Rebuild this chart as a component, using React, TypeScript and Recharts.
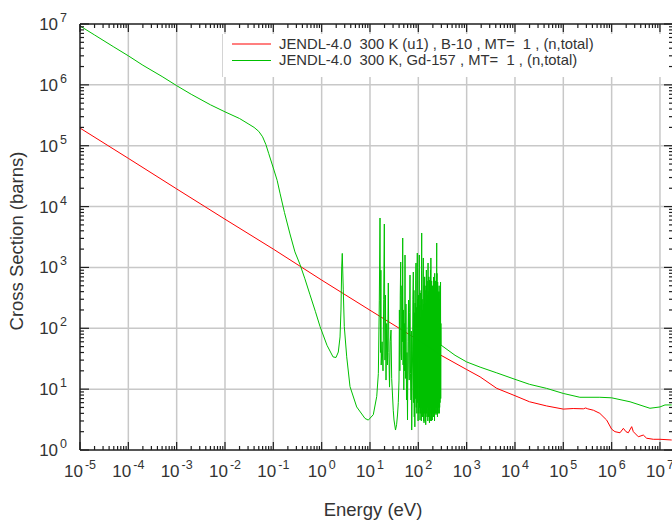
import React from 'react';
import { LineChart, Line, XAxis, YAxis, ReferenceLine } from 'recharts';

// ---------- axis values ----------
const X_DECADES = [1e-5, 1e-4, 1e-3, 1e-2, 1e-1, 1, 1e1, 1e2, 1e3, 1e4, 1e5, 1e6, 1e7];
const Y_DECADES = [1, 1e1, 1e2, 1e3, 1e4, 1e5, 1e6, 1e7];
const MINOR_MULTIPLIERS = [2, 3, 4, 5, 6, 7, 8, 9];
const X_DOMAIN: [number, number] = [1e-5, 1.86e7];
const Y_DOMAIN: [number, number] = [1, 1e7];

const X_TITLE = 'Energy (eV)';
const Y_TITLE = 'Cross Section (barns)';
const SERIES_NAMES = [
  'JENDL-4.0  300 K (u1) , B-10 , MT=  1 , (n,total)',
  'JENDL-4.0  300 K, Gd-157 , MT=  1 , (n,total)',
];
const SERIES_COLORS = ['#ff0000', '#00c000'];

// ---------- data: [energy eV, cross section barns] ----------
const b10Points: [number, number][] = [
  [1e-5, 1.95e5], [1e-4, 6.2e4], [1e-3, 1.95e4], [1e-2, 6.2e3], [0.1, 2.0e3],
  [1, 620], [10, 198], [100, 64], [295, 36], [1e3, 21], [1.9e3, 15.9],
  [4.2e3, 10.3], [1e4, 7.8], [2e4, 6.2], [4.5e4, 5.3], [1e5, 4.7], [1.6e5, 4.8],
  [2.6e5, 4.75], [2.9e5, 4.9], [3.2e5, 4.75], [4.2e5, 4.5], [5.7e5, 4.0],
  [7.9e5, 3.1], [1.0e6, 2.2], [1.17e6, 2.0], [1.49e6, 1.92], [1.75e6, 2.27],
  [1.98e6, 2.0], [2.21e6, 1.92], [2.6e6, 2.42], [2.81e6, 2.0], [3.57e6, 1.65],
  [4.52e6, 1.76], [5.3e6, 1.56], [7.3e6, 1.5], [1e7, 1.5], [1.75e7, 1.46],
];

// smooth low-energy part, 2.8 eV resonance and valley
const gd157LowPoints: [number, number][] = [
  [1e-5, 9.3e6], [2e-5, 6.6e6], [5e-5, 4.2e6], [1e-4, 3.0e6], [2e-4, 2.1e6],
  [5e-4, 1.37e6], [1e-3, 9.7e5], [2e-3, 7.0e5], [5e-3, 4.7e5], [1e-2, 3.6e5],
  [2e-2, 2.8e5], [3e-2, 2.3e5], [4e-2, 2.0e5], [5e-2, 1.72e5], [6e-2, 1.4e5],
  [7e-2, 1.05e5], [8e-2, 7.5e4], [0.1, 4.3e4], [0.12, 2.7e4], [0.1375, 1.66e4],
  [0.17, 8000], [0.221, 3550], [0.28, 1800], [0.356, 1120], [0.45, 650],
  [0.574, 355], [0.74, 190], [0.925, 107], [1.29, 52.5], [1.72, 33.9],
  [1.98, 33.1], [2.21, 40.7], [2.40, 72], [2.51, 200], [2.60, 1020], [2.67, 1700],
  [2.80, 427], [2.94, 107], [3.30, 34], [3.86, 11], [5.31, 5.1], [7.89, 3.3],
  [9.23, 3.1], [11.7, 3.8], [13.8, 7.6], [14.9, 18], [15.6, 290],
];

// resolved resonance region
const gd157ResonancePoints: [number, number][] = [
  [16.12, 6490], [16.5, 40], [16.8, 900], [17.06, 24.9], [17.8, 60], [18.6, 20],
  [19.2, 300], [19.79, 5170], [20.4, 30], [20.9, 350], [21.46, 14.1], [22.2, 120],
  [23.0, 25], [23.94, 555], [24.6, 40], [25.35, 10.8], [26.2, 60], [27.22, 93.7],
  [28.1, 15], [29.24, 8.0], [30.3, 4.5], [31.41, 3.11], [33.73, 2.13], [35.5, 2.6],
  [37.1, 3.76], [38.5, 6], [39.86, 14.1], [40.6, 200], [41.5, 20], [42.3, 350],
  [43.21, 1228], [44.0, 40], [44.89, 30.1], [45.8, 500], [46.6, 60], [47.53, 3043],
  [48.4, 25], [49.2, 200], [50.1, 9.68], [51.2, 120], [52.1, 20], [53.04, 1600],
  [54.2, 15], [55.5, 250], [56.97, 6.63], [58.3, 40], [59.75, 3.11], [61.2, 60],
  [62.66, 291], [63.7, 25], [64.79, 14.1], [66.0, 180], [67.3, 750], [68.9, 18],
  [70.58, 6.63], [71.8, 90], [72.98, 2.13], [74.3, 8], [75.82, 30.1], [77.3, 300],
  [78.8, 841], [80.0, 6], [81.2, 420], [82.4, 3.5], [83.6, 180], [84.8, 2.4],
  [86.0, 260], [87.2, 7], [88.4, 600], [89.6, 1183], [90.8, 5], [92.0, 220],
  [93.2, 4], [94.3, 450], [95.3, 1725], [96.5, 6], [97.7, 300], [98.9, 3],
  [100.1, 180], [101.3, 350], [102.5, 4], [103.7, 600], [104.8, 1600], [106.0, 5],
  [107.2, 240], [108.4, 3.1], [109.6, 380], [110.8, 4], [112.0, 150], [113.2, 6],
  [114.4, 420], [115.6, 3], [116.6, 900], [117.5, 3680], [118.8, 5], [120.1, 300],
  [121.4, 3.5], [122.7, 200], [124.0, 4], [125.3, 700], [126.9, 1430], [128.3, 3],
  [129.7, 250], [131.1, 2.8], [132.5, 500], [133.9, 4], [135.3, 700], [136.7, 5],
  [138.1, 420], [139.5, 3], [140.9, 260], [142.3, 2.6], [143.8, 500], [145.3, 6],
  [146.8, 907], [148.3, 4], [149.8, 350], [151.3, 3.5], [152.8, 600], [154.3, 5],
  [155.8, 300], [157.3, 3], [158.9, 1183], [160.5, 6], [162.1, 400], [163.7, 3.5],
  [165.3, 700], [166.9, 4], [168.5, 300], [170.1, 2.8], [171.7, 621], [173.4, 5],
  [175.1, 400], [176.8, 3], [178.5, 900], [180.2, 6], [181.9, 1430], [183.6, 4],
  [185.3, 350], [187.0, 3], [188.8, 600], [190.6, 5], [192.4, 300], [194.2, 3.1],
  [196.0, 500], [197.8, 4], [199.6, 420], [201.4, 6], [203.2, 290], [205.0, 3.5],
  [206.9, 697], [208.8, 5], [210.7, 350], [212.6, 4], [214.5, 520], [216.4, 3],
  [218.4, 800], [220.4, 5], [222.4, 400], [224.4, 4], [226.4, 600], [228.4, 6],
  [230.4, 300], [232.4, 3.8], [234.5, 600], [236.6, 5], [238.7, 426], [240.2, 2520],
  [241.8, 4], [243.4, 800], [245.0, 5], [247.1, 300], [249.2, 3.5], [251.4, 576],
  [253.6, 6], [255.8, 250], [258.0, 4], [260.2, 400], [262.4, 5], [264.7, 300],
  [267.0, 6], [269.3, 500], [271.6, 4], [273.9, 200], [276.2, 5], [278.6, 400],
  [281.0, 6], [283.4, 300], [285.8, 8], [288.2, 576], [290.6, 7], [293.0, 120],
  [294.7, 53],
];

// smooth high-energy part
const gd157HighPoints: [number, number][] = [
  [575, 36], [1e3, 28], [1.9e3, 23], [4.2e3, 18.5], [1e4, 14.5], [2e4, 12],
  [4.5e4, 10.3], [1e5, 8.5], [2.2e5, 7.35], [5.7e5, 7.35], [1e6, 7.2],
  [2.4e6, 6.2], [6.2e6, 4.85], [1e7, 5.1], [1.27e7, 5.5], [1.75e7, 5.5],
];

const b10Data = b10Points.map(([e, s]) => ({ e, s }));
const gd157Data = [...gd157LowPoints, ...gd157ResonancePoints, ...gd157HighPoints].map(([e, s]) => ({ e, s }));

const xTicks = [
  ...X_DECADES,
  ...X_DECADES.flatMap((d) => MINOR_MULTIPLIERS.map((m) => m * d)).filter((v) => v < X_DOMAIN[1]),
].sort((a, b) => a - b);
const yTicks = [
  ...Y_DECADES,
  ...Y_DECADES.slice(0, -1).flatMap((d) => MINOR_MULTIPLIERS.map((m) => m * d)),
].sort((a, b) => a - b);

// ---------- layout ----------
const CHART_W = 680;
const CHART_H = 520;
const MARGIN = { top: 24, right: 7, bottom: 0, left: 0 };
const Y_AXIS_W = 80;
const X_AXIS_H = 70;
const PLOT_W = CHART_W - MARGIN.right - Y_AXIS_W;
const PLOT_H = CHART_H - MARGIN.top - X_AXIS_H;
const AXIS = '#1e1e1e';
const GRID = '#c8c8c8';
const TEXT = '#333';
const FONT = '"Liberation Sans", Arial, sans-serif';

const isMajor = (v: number) => {
  const lg = Math.log10(v);
  return Math.abs(lg - Math.round(lg)) < 1e-6;
};

const XTick = (props: any) => {
  const { x, y, payload } = props;
  const v = payload.value;
  const major = isMajor(v);
  const len = major ? 8 : 4;
  return (
    <g>
      <line x1={x} y1={y} x2={x} y2={y - len} stroke={AXIS} strokeWidth={1.2} />
      <line x1={x} y1={y - PLOT_H} x2={x} y2={y - PLOT_H + len} stroke={AXIS} strokeWidth={1.2} />
      {major && (
        <text x={x} y={y + 27} textAnchor="middle" fontSize={17} fill={TEXT} fontFamily={FONT}>
          10
          <tspan dx={2} dy={-8} fontSize={12.5}>
            {Math.round(Math.log10(v))}
          </tspan>
        </text>
      )}
    </g>
  );
};

const YTick = (props: any) => {
  const { x, y, payload } = props;
  const v = payload.value;
  const major = isMajor(v);
  const len = major ? 9 : 4;
  return (
    <g>
      <line x1={x} y1={y} x2={x + len} y2={y} stroke={AXIS} strokeWidth={1.2} />
      <line x1={x + PLOT_W} y1={y} x2={x + PLOT_W - len} y2={y} stroke={AXIS} strokeWidth={1.2} />
      {major && (
        <text x={x - 13} y={y + 6} textAnchor="end" fontSize={17} fill={TEXT} fontFamily={FONT}>
          10
          <tspan dx={2} dy={-8} fontSize={12.5}>
            {Math.round(Math.log10(v))}
          </tspan>
        </text>
      )}
    </g>
  );
};

export default function App() {
  return (
    <div
      style={{
        position: 'absolute',
        left: 0,
        top: 0,
        width: 672,
        height: 520,
        overflow: 'hidden',
        background: '#fff',
        fontFamily: FONT,
      }}
    >
      <LineChart width={CHART_W} height={CHART_H} margin={MARGIN}>
        <XAxis
          dataKey="e"
          type="number"
          scale="log"
          domain={X_DOMAIN}
          allowDataOverflow
          ticks={xTicks}
          interval={0}
          tick={<XTick />}
          tickLine={false}
          tickSize={0}
          tickMargin={0}
          height={X_AXIS_H}
          axisLine={{ stroke: AXIS, strokeWidth: 1.5 }}
        />
        <YAxis
          dataKey="s"
          type="number"
          scale="log"
          domain={Y_DOMAIN}
          allowDataOverflow
          ticks={yTicks}
          interval={0}
          tick={<YTick />}
          tickLine={false}
          tickSize={0}
          tickMargin={0}
          width={Y_AXIS_W}
          axisLine={{ stroke: AXIS, strokeWidth: 1.5 }}
        />
        {X_DECADES.slice(1).map((v) => (
          <ReferenceLine key={'gx' + v} x={v} stroke={GRID} strokeWidth={1.5} />
        ))}
        {Y_DECADES.slice(1, -1).map((v) => (
          <ReferenceLine key={'gy' + v} y={v} stroke={GRID} strokeWidth={1.5} />
        ))}
        <ReferenceLine y={Y_DOMAIN[1]} stroke={AXIS} strokeWidth={1.5} />
        <ReferenceLine x={X_DOMAIN[1]} stroke={AXIS} strokeWidth={1.5} />
        <Line
          data={b10Data}
          dataKey="s"
          name={SERIES_NAMES[0]}
          stroke={SERIES_COLORS[0]}
          strokeWidth={1}
          dot={false}
          type="linear"
          isAnimationActive={false}
        />
        <Line
          data={gd157Data}
          dataKey="s"
          name={SERIES_NAMES[1]}
          stroke={SERIES_COLORS[1]}
          strokeWidth={1}
          dot={false}
          type="linear"
          isAnimationActive={false}
        />
      </LineChart>
      <svg
        width={672}
        height={520}
        style={{ position: 'absolute', left: 0, top: 0, pointerEvents: 'none' }}
      >
        <rect x={222} y={34} width={445} height={43} fill="#fff" />
        <line x1={222.5} y1={34} x2={222.5} y2={77} stroke="#d4d4d4" strokeWidth={1} />
        {SERIES_NAMES.map((name, i) => (
          <g key={name}>
            <line x1={232} y1={44 + i * 16.5} x2={271} y2={44 + i * 16.5} stroke={SERIES_COLORS[i]} strokeWidth={1.2} />
            <text x={279} y={48.5 + i * 16.5} fontSize={14.8} fill={TEXT} fontFamily={FONT} style={{ whiteSpace: 'pre' }}>
              {name}
            </text>
          </g>
        ))}
        <text x={373} y={516} textAnchor="middle" fontSize={18.5} fill={TEXT} fontFamily={FONT}>
          {X_TITLE}
        </text>
        <text
          x={0}
          y={0}
          transform="translate(23,241) rotate(-90)"
          textAnchor="middle"
          fontSize={18.5}
          fill={TEXT}
          fontFamily={FONT}
        >
          {Y_TITLE}
        </text>
      </svg>
    </div>
  );
}
